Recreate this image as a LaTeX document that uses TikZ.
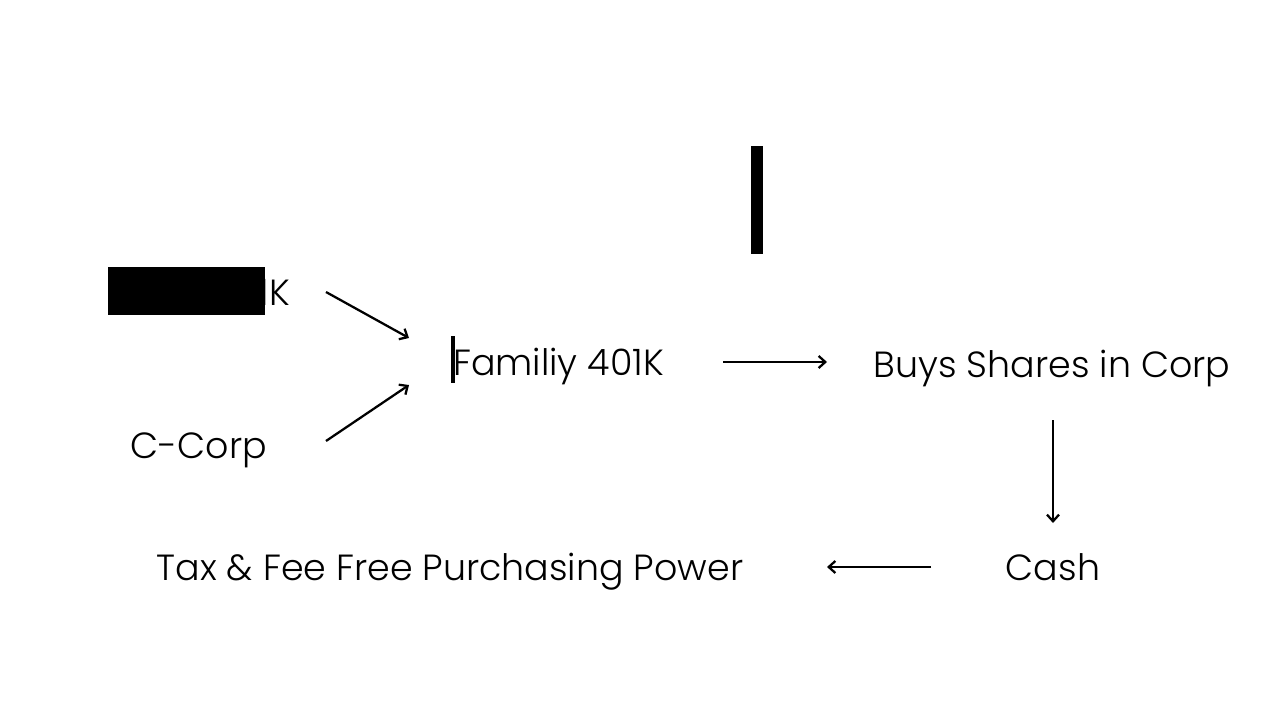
\documentclass[tikz,border=0pt]{standalone}
\usepackage{fontspec}
\setmainfont{Poppins}[UprightFont=* Light]
\usetikzlibrary{arrows.meta}
\begin{document}
\begin{tikzpicture}[x=0.75pt,y=-0.75pt,
  lbl/.style={font=\fontsize{27.3}{30}\selectfont, inner sep=0pt, text=black},
  conn/.style={line width=1.7pt, -{Straight Barb[length=5pt,width=9pt,line width=1.7pt]}}]
\useasboundingbox (0,0) rectangle (1280,720);
\fill[white] (0,0) rectangle (1280,720);
% texts
\node[lbl, anchor=base east] (solo) at (290,305) {1K};
\fill[black] (108,267) rectangle (265,315);
\node[lbl, anchor=base west] (fam) at (453,375) {Familiy 401K};
\fill[black] (451,336) rectangle (455,383);
\fill[black] (751,146) rectangle (763,254);
\node[lbl, anchor=base] (ccorp) at (199,458) {C-Corp};
\node[lbl, anchor=base] (buys) at (1052,377) {Buys Shares in Corp};
\node[lbl, anchor=base] (cash) at (1053,580) {Cash};
\node[lbl, anchor=base] (tax) at (450,580) {Tax \& Fee Free Purchasing Power};
% connector endpoints
\coordinate (a1) at (326,292); \coordinate (a2) at (409,338);
\coordinate (b1) at (326,441); \coordinate (b2) at (409,385);
\coordinate (c1) at (723,362); \coordinate (c2) at (827,362);
\coordinate (d1) at (1053,420); \coordinate (d2) at (1053,523);
\coordinate (e1) at (931,567); \coordinate (e2) at (827,567);
\draw[conn] (a1) -- (a2);
\draw[conn] (b1) -- (b2);
\draw[conn] (c1) -- (c2);
\draw[conn] (d1) -- (d2);
\draw[conn] (e1) -- (e2);
\end{tikzpicture}
\end{document}
